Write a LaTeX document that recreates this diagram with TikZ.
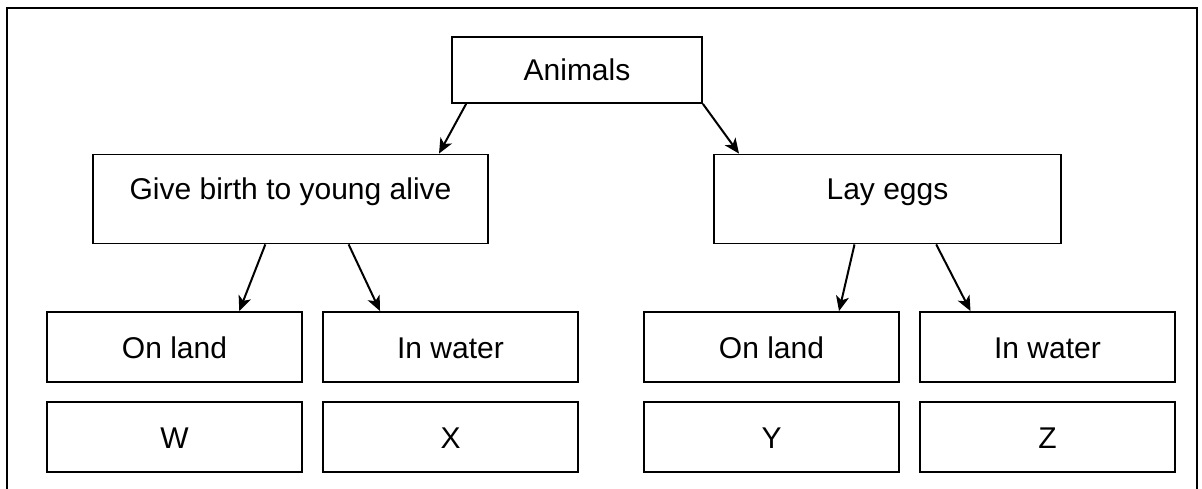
\documentclass[tikz,border=0pt]{standalone}
\usepackage{fontspec}
\setmainfont{Liberation Sans}
\usetikzlibrary{arrows.meta}
\tikzset{
  box/.style={draw, line width=1.8pt, inner sep=0pt, text height=22pt, text depth=0pt, font=\fontsize{30}{36}\selectfont},
  cell/.style={box, minimum width=255pt, minimum height=70pt},
  tallbox/.style={box, minimum height=89pt, text depth=20pt}
}
\begin{document}
\begin{tikzpicture}[x=1pt, y=1pt,
  edge from parent/.style={draw, line width=2pt, -{Stealth[length=15pt,width=13pt,inset=4pt]}},
  level 1/.style={sibling distance=597pt, level distance=129pt, every child node/.style={xshift=12pt}},
  level 2/.style={sibling distance=276pt, level distance=148pt, every child node/.style={xshift=22pt}},
  level 3/.style={level distance=90pt, every child node/.style={}, edge from parent/.style={draw=none}}]
\useasboundingbox (0,0) rectangle (1202,-489);
\draw[line width=1.8pt] (7,-489) -- (7,-8) -- (1197,-8) -- (1197,-489);
\node[box, minimum width=250pt, minimum height=66pt] (anim) at (577,-70) {Animals}
child[parent anchor=197, child anchor=17] {node[tallbox, minimum width=395pt] (young) {Give birth to young alive}
  child[parent anchor=241, child anchor=29] {node[cell] (landA) {On land}
    child {node[cell] (w) {W}}
  }
  child[parent anchor=322, child anchor=153] {node[cell] (waterA) {In water}
    child {node[cell] (x) {X}}
  }
}
child[parent anchor=south east, child anchor=163] {node[tallbox, minimum width=347pt] (eggs) {Lay eggs}
  child[parent anchor=234, child anchor=28] {node[cell] (landB) {On land}
    child {node[cell] (y) {Y}}
  }
  child[parent anchor=317, child anchor=155] {node[cell] (waterB) {In water}
    child {node[cell] (z) {Z}}
  }
};
\end{tikzpicture}
\end{document}
